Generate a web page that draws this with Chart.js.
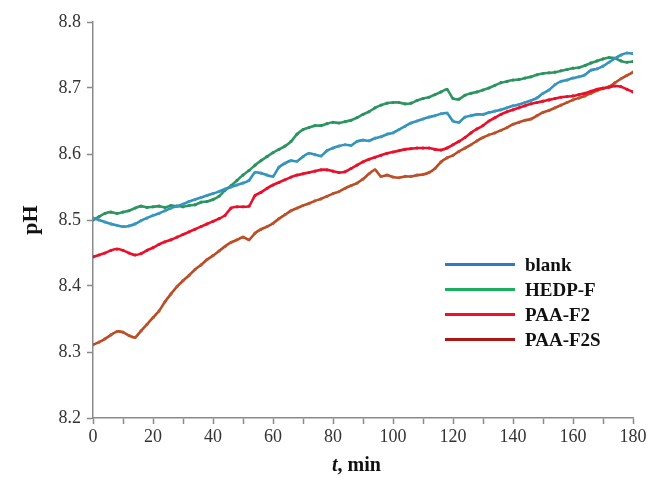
<!DOCTYPE html>
<html lang="en">
<head>
<meta charset="UTF-8">
<title>pH vs time</title>
<script src="https://cdn.jsdelivr.net/npm/chart.js"></script>
<style>
    body { margin: 0; background: #fff; }
    .wrap { position: relative; width: 650px; height: 480px; }
    .xtitle {
        position: absolute; left: 332px; top: 453px;
        font: bold 20px "Liberation Serif", "Times New Roman", serif; color: #111;
    }
    .legend {
        position: absolute; left: 445px; top: 252px;
        font: bold 19px "Liberation Serif", "Times New Roman", serif; color: #111;
    }
    .legend .row { height: 25px; display: flex; align-items: center; }
    .legend .swatch { width: 70px; height: 3px; margin-right: 10px; }
</style>
</head>
<body>
<div class="wrap">
    <canvas id="phChart" width="650" height="480"></canvas>
    <div class="xtitle"><i>t</i>, min</div>
    <div class="legend" id="legend"></div>
</div>

<script>
// time axis, minutes (one reading every 2 min)
const times = [0,2,4,6,8,10,12,14,16,18,20,22,24,26,28,30,32,34,36,38,40,42,44,46,48,50,52,54,56,58,
    60,62,64,66,68,70,72,74,76,78,80,82,84,86,88,90,92,94,96,98,100,102,104,106,108,110,112,114,116,118,
    120,122,124,126,128,130,132,134,136,138,140,142,144,146,148,150,152,154,156,158,160,162,164,166,168,170,172,174,176,178,180];

const blank = [8.503,8.500,8.497,8.494,8.492,8.490,8.491,8.494,8.499,8.503,8.507,8.510,8.514,8.518,8.521,8.524,8.528,8.531,8.534,8.537,
    8.540,8.543,8.547,8.550,8.553,8.556,8.560,8.572,8.571,8.568,8.566,8.580,8.586,8.590,8.589,8.596,8.601,8.599,8.597,8.605,
    8.609,8.612,8.614,8.613,8.619,8.621,8.620,8.624,8.626,8.630,8.632,8.637,8.642,8.647,8.650,8.653,8.656,8.658,8.661,8.662,
    8.650,8.648,8.656,8.658,8.660,8.660,8.663,8.665,8.667,8.670,8.673,8.675,8.678,8.681,8.685,8.692,8.697,8.705,8.710,8.712,
    8.715,8.717,8.720,8.727,8.729,8.733,8.739,8.745,8.750,8.753,8.752];

const hedp = [8.500,8.505,8.510,8.512,8.510,8.512,8.514,8.518,8.521,8.519,8.520,8.521,8.519,8.522,8.521,8.520,8.522,8.523,8.527,8.528,
    8.531,8.536,8.545,8.552,8.560,8.568,8.575,8.583,8.590,8.596,8.602,8.607,8.612,8.619,8.630,8.637,8.640,8.643,8.643,8.646,
    8.648,8.647,8.649,8.651,8.655,8.660,8.664,8.670,8.674,8.677,8.678,8.678,8.676,8.677,8.681,8.684,8.686,8.690,8.694,8.698,
    8.684,8.683,8.689,8.692,8.694,8.697,8.700,8.704,8.708,8.710,8.712,8.713,8.715,8.717,8.720,8.722,8.723,8.724,8.726,8.728,
    8.730,8.731,8.734,8.738,8.741,8.744,8.746,8.745,8.741,8.739,8.740];

const paaF2 = [8.444,8.447,8.450,8.454,8.456,8.454,8.450,8.447,8.449,8.454,8.458,8.463,8.467,8.470,8.474,8.478,8.482,8.486,8.490,8.494,
    8.498,8.502,8.507,8.518,8.520,8.520,8.521,8.537,8.542,8.548,8.553,8.557,8.561,8.565,8.568,8.570,8.572,8.574,8.576,8.576,
    8.574,8.572,8.573,8.578,8.583,8.588,8.592,8.595,8.598,8.601,8.603,8.605,8.607,8.608,8.609,8.609,8.609,8.607,8.606,8.609,
    8.614,8.619,8.625,8.632,8.638,8.643,8.650,8.655,8.660,8.664,8.667,8.670,8.673,8.676,8.678,8.680,8.682,8.684,8.686,8.687,
    8.688,8.690,8.692,8.695,8.698,8.700,8.701,8.703,8.702,8.698,8.694];

const paaF2S = [8.311,8.315,8.320,8.326,8.331,8.330,8.325,8.322,8.332,8.342,8.352,8.362,8.376,8.388,8.399,8.408,8.416,8.425,8.432,8.440,
    8.446,8.453,8.460,8.466,8.470,8.474,8.470,8.480,8.486,8.490,8.495,8.502,8.508,8.514,8.518,8.522,8.525,8.529,8.532,8.536,
    8.540,8.543,8.548,8.552,8.556,8.562,8.570,8.576,8.566,8.568,8.565,8.564,8.566,8.566,8.568,8.569,8.572,8.578,8.588,8.594,
    8.598,8.604,8.609,8.614,8.620,8.625,8.629,8.632,8.636,8.640,8.645,8.648,8.651,8.653,8.658,8.663,8.666,8.670,8.674,8.678,
    8.682,8.685,8.688,8.692,8.696,8.699,8.702,8.708,8.714,8.719,8.724];

const seriesNames = ['blank', 'HEDP-F', 'PAA-F2', 'PAA-F2S'];
const seriesValues = [blank, hedp, paaF2, paaF2S];
const lineColors = ['#3190C0', '#2C9862', '#E8102A', '#BA4A22'];
const dotColors = ['#3A9AB8', '#2E9060', '#E8102A', '#BC5430'];
const legendColors = ['#2E7BC4', '#1BAE5C', '#F0102C', '#B01515'];

const axisColor = '#8a8a8a';
const tickFont = { family: '"Liberation Serif", "Times New Roman", serif', size: 18 };

const datasets = seriesNames.map((name, i) => ({
    label: name,
    data: times.map((t, j) => ({ x: t, y: seriesValues[i][j] })),
    borderColor: lineColors[i],
    backgroundColor: dotColors[i],
    borderWidth: 2.6,
    pointRadius: 1.6,
    pointBorderWidth: 0,
    tension: 0.2
}));

const ctx = document.getElementById('phChart').getContext('2d');
const chart = new Chart(ctx, {
    type: 'line',
    data: { datasets: datasets },
    options: {
        responsive: false,
        animation: false,
        layout: { padding: { top: 22, right: 17, bottom: 0, left: 0 } },
        plugins: { legend: { display: false }, tooltip: { enabled: false } },
        scales: {
            x: {
                type: 'linear',
                min: 0, max: 180,
                afterFit: s => { s.height = 62; },
                border: { color: axisColor, width: 1.5 },
                grid: { drawOnChartArea: false, drawTicks: true, tickLength: 6, tickColor: axisColor, tickWidth: 1.5 },
                ticks: {
                    stepSize: 10, autoSkip: false, maxRotation: 0, padding: 2,
                    color: '#333', font: tickFont,
                    callback: v => (v % 20 === 0 ? String(v) : '')
                }
            },
            y: {
                min: 8.2, max: 8.8,
                afterFit: s => { s.width = 93; },
                border: { color: axisColor, width: 1.5 },
                grid: { drawOnChartArea: false, drawTicks: true, tickLength: 6, tickColor: axisColor, tickWidth: 1.5 },
                ticks: {
                    stepSize: 0.1, padding: 6, color: '#333', font: tickFont,
                    callback: v => v.toFixed(1)
                },
                title: {
                    display: true, text: 'pH', color: '#111',
                    font: { family: '"Liberation Serif", "Times New Roman", serif', size: 22, weight: 'bold' },
                    padding: { top: 18, bottom: 4 }
                }
            }
        }
    }
});

// legend drawn as html, built from the datasets
const legend = document.getElementById('legend');
seriesNames.forEach((name, i) => {
    const row = document.createElement('div');
    row.className = 'row';
    row.innerHTML = '<span class="swatch" style="background:' + legendColors[i] + '"></span>' + name;
    legend.appendChild(row);
});
</script>
</body>
</html>
